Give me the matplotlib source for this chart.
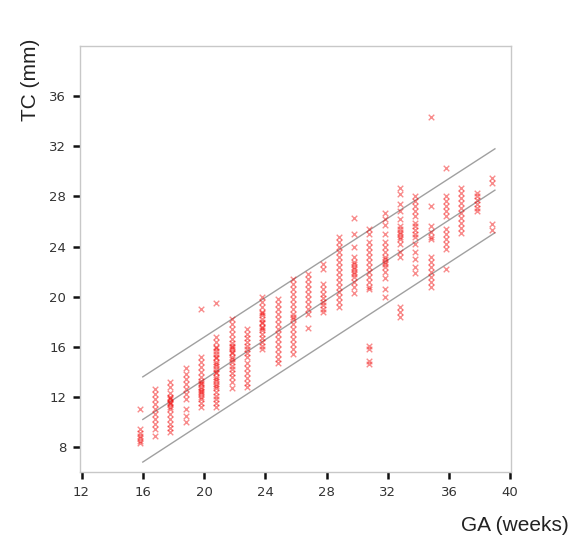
import matplotlib
matplotlib.use("Agg")
import matplotlib.pyplot as plt
import numpy as np

tc_by_week = {
    16: [11.0, 9.4, 9.1, 8.9, 8.7, 8.5, 8.3],
    17: [12.6, 12.2, 11.8, 11.4, 11.0, 10.6, 10.2, 9.8, 9.4, 8.9],
    18: [13.2, 12.8, 12.3, 12.0, 11.9, 11.8, 11.6, 11.5, 11.4, 11.2, 11.0,
         10.6, 10.2, 9.8, 9.5, 9.2],
    19: [14.3, 13.8, 13.4, 13.0, 12.6, 12.2, 11.8, 11.0, 10.5, 10.0],
    20: [19.0, 15.2, 14.8, 14.4, 14.0, 13.6, 13.3, 13.0, 12.8, 12.6, 12.4,
         12.2, 12.0, 11.8, 11.5, 11.2, 13.1, 12.5],
    21: [19.5, 16.8, 16.4, 16.0, 15.7, 15.4, 15.1, 14.8, 14.5, 14.2, 13.9,
         13.6, 13.3, 13.0, 12.7, 12.4, 12.1, 11.8, 11.5, 11.2, 14.0, 14.6,
         15.2, 13.4, 15.9, 12.9],
    22: [18.2, 17.8, 17.4, 17.0, 16.6, 16.3, 16.0, 15.8, 15.5, 15.2, 15.0,
         14.8, 14.5, 14.2, 13.9, 13.6, 13.2, 12.7, 15.6, 16.1],
    23: [17.4, 17.0, 16.7, 16.4, 16.1, 15.8, 15.5, 15.2, 14.7, 14.3, 13.9,
         13.5, 13.1, 12.8],
    24: [20.0, 19.6, 19.2, 18.8, 18.5, 18.2, 17.9, 17.6, 17.3, 17.0, 16.7,
         16.4, 16.1, 15.8, 18.0, 17.5, 18.7],
    25: [19.8, 19.4, 19.0, 18.6, 18.2, 17.8, 17.4, 17.0, 16.6, 16.2, 15.8,
         15.4, 15.0, 14.7],
    26: [21.4, 21.0, 20.6, 20.2, 19.8, 19.4, 19.0, 18.6, 18.2, 17.8, 17.4,
         17.0, 16.6, 16.2, 15.8, 15.4, 18.4],
    27: [21.8, 21.4, 21.0, 20.6, 20.2, 19.8, 19.4, 19.0, 18.6, 17.5],
    28: [22.6, 22.2, 21.0, 20.6, 20.2, 19.9, 19.6, 19.3, 19.0, 18.8],
    29: [24.8, 24.4, 24.0, 23.6, 23.2, 22.8, 22.4, 22.0, 21.6, 21.2, 20.8,
         20.4, 20.0, 19.6, 19.2],
    30: [26.3, 25.0, 24.0, 23.2, 22.8, 22.6, 22.4, 22.2, 22.0, 21.8, 21.6,
         21.2, 20.8, 20.3],
    31: [25.4, 25.0, 24.4, 24.0, 23.6, 23.2, 22.8, 22.4, 22.0, 21.6, 21.2,
         20.8, 20.6, 16.1, 15.8, 14.9, 14.6],
    32: [26.7, 26.2, 25.7, 25.0, 24.4, 24.0, 23.6, 23.2, 23.0, 22.8, 22.6,
         22.4, 22.0, 21.5, 20.6, 20.0],
    33: [28.7, 28.2, 27.4, 26.8, 26.2, 25.6, 25.4, 25.2, 25.0, 24.8, 24.6,
         24.2, 23.6, 23.2, 19.2, 18.8, 18.4],
    34: [28.0, 27.6, 27.2, 26.8, 26.4, 25.9, 25.6, 25.3, 25.0, 24.8, 24.2,
         23.6, 23.0, 22.4, 21.9],
    35: [34.3, 27.2, 25.6, 25.2, 24.8, 24.6, 23.2, 22.8, 22.4, 22.0, 21.6,
         21.2, 20.8],
    36: [30.3, 28.0, 27.6, 27.2, 26.8, 26.4, 25.4, 25.0, 24.6, 24.2, 23.8,
         22.2],
    37: [28.7, 28.3, 27.9, 27.5, 27.1, 26.7, 26.3, 25.9, 25.5, 25.1],
    38: [28.3, 28.0, 27.7, 27.4, 27.1, 26.8],
    39: [29.5, 29.1, 25.8, 25.3],
}

# reference lines (mean and limits)
line_ga = [16, 39]
line_mid = [10.2, 28.5]
line_upper = [13.6, 31.8]
line_lower = [6.8, 25.1]

x_ticks = [12, 16, 20, 24, 28, 32, 36, 40]
y_ticks = [8, 12, 16, 20, 24, 28, 32, 36]

ga = []
tc = []
for week, vals in tc_by_week.items():
    ga.extend([week] * len(vals))
    tc.extend(vals)
ga = np.array(ga) - 0.2
tc = np.array(tc)

fig = plt.figure(figsize=(5.82, 5.42), dpi=100)
ax = fig.add_axes([0.1375, 0.129, 0.7405, 0.786])

ax.scatter(ga, tc, marker='x', s=16, linewidths=1.0, color='#f00000', alpha=0.45, zorder=2)

for yy in (line_upper, line_mid, line_lower):
    ax.plot(line_ga, yy, color='#a0a0a0', linewidth=1.0, zorder=1)

ax.set_xlim(11.9, 40.05)
ax.set_ylim(6, 40)
ax.set_xticks(x_ticks)
ax.set_yticks(y_ticks)

for s in ax.spines.values():
    s.set_color('#c8c8c8')
    s.set_linewidth(1.0)

ax.tick_params(direction='out', length=5, width=1.8, color='#111111',
               labelsize=9.5, labelcolor='#333333', pad=5)

fig.text(0.052, 0.852, 'TC (mm)', rotation=90, ha='center', va='center',
         fontsize=15, family='Liberation Sans', color='#222222')
fig.text(0.885, 0.031, 'GA (weeks)', ha='center', va='center',
         fontsize=15, family='Liberation Sans', color='#222222')

plt.savefig('out.png', dpi=100, facecolor='white')
